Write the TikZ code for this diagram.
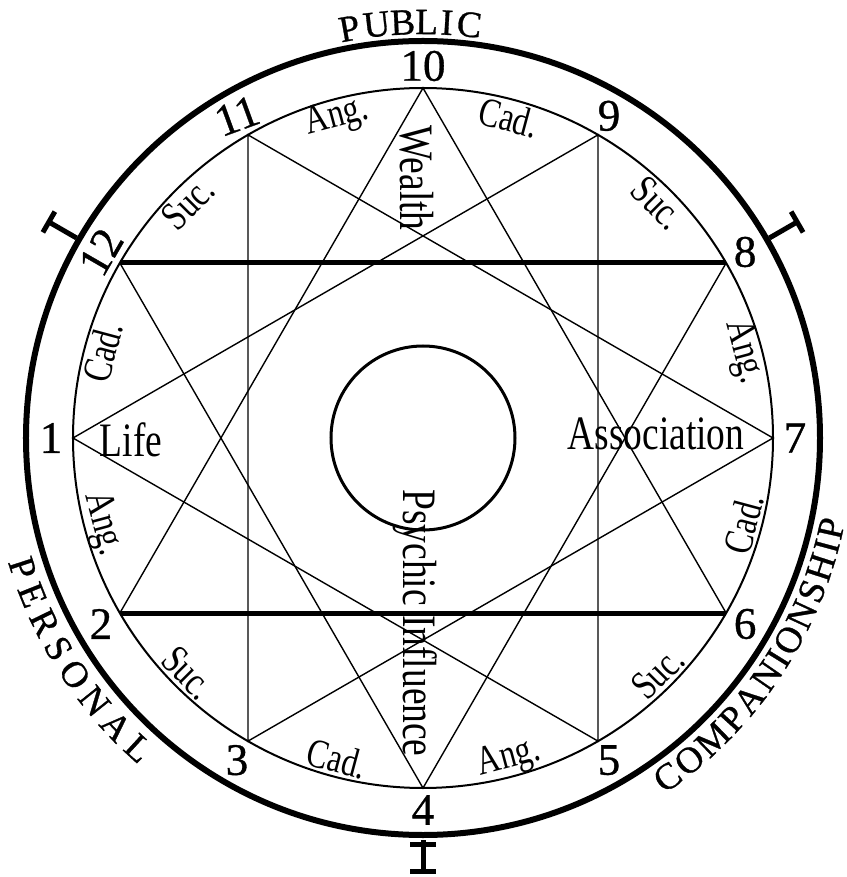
\documentclass[tikz,border=0pt]{standalone}
\usepackage{fontspec}
\setmainfont{Liberation Serif}
\newfontfamily\decofont[FakeStretch=0.78]{Liberation Serif}
\newfontfamily\capfont[FakeBold=0.8]{Liberation Serif}
\usetikzlibrary{calc}
\tikzset{
  rim/.style={line width=6pt},
  ring/.style={line width=2pt},
  core/.style={line width=3pt},
  chord/.style={line width=1.4pt},
  axis/.style={line width=5pt},
  imark/.style={line width=5pt},
  cusp/.style={font=\capfont\fontsize{45}{45}\selectfont, inner sep=0pt},
  house/.style={font=\decofont\fontsize{41}{41}\selectfont, inner sep=0pt},
  field/.style={font=\decofont\fontsize{48}{48}\selectfont, inner sep=0pt},
  rimtext/.style={font=\capfont\fontsize{37}{37}\selectfont, inner sep=0pt},
}

\begin{document}
\begin{tikzpicture}[x=1pt, y=1pt]
\useasboundingbox (-423,-439) rectangle (423,438);

% ── Kreise ─────────────────────────────────────────────────
\draw[rim] (0,0) circle (397);
\draw[ring] (0,0) circle (350);
\draw[core] (0,0) circle (92);

% ── Spitzen der Häuser ─────────────────────────────────────
\foreach \k in {1,...,12}
  \coordinate (p\k) at ({180+30*(\k-1)}:350);

% ── Trigone ────────────────────────────────────────────────
\draw[chord] (p10) -- (p2) (p10) -- (p6);
\draw[chord] (p4) -- (p12) (p4) -- (p8);
\draw[chord] (p1) -- (p9) -- (p5) -- cycle;
\draw[chord] (p7) -- (p11) -- (p3) -- cycle;
\draw[axis] (p12) -- (p8);
\draw[axis] (p2) -- (p6);

% ── Nummern ────────────────────────────────────────────────
\foreach \k/\r in {1/0,2/0,3/0,4/0,5/0,6/0,7/0,8/0,9/0,10/0,11/20,12/60}
  \node[cusp, rotate=\r] (n\k) at ({180+30*(\k-1)}:372) {\k};

% ── Ang. / Suc. / Cad. ─────────────────────────────────────
\foreach \k/\t/\r in {1/Ang./-75, 2/Suc./-45, 3/Cad./-15, 4/Ang./15, 5/Suc./45, 6/Cad./75,
                      7/Ang./-75, 8/Suc./-45, 9/Cad./-15, 10/Ang./15, 11/Suc./45, 12/Cad./75}
  \node[house, rotate=\r] (h\k) at ({195+30*(\k-1)}:332) {\t};

% ── Felder ─────────────────────────────────────────────────
\node[field, anchor=base] (life) at (-292,-19) {Life};
\node[field, anchor=base] (assoc) at (233,-12) {Association};
\node[field, rotate=-90] (wealth) at (-6,260) {Wealth};
\node[field, rotate=-90] (psychic) at (-8,-185) {Psychic Influence};

% ── Randschrift ────────────────────────────────────────────
\foreach \a/\c [count=\i] in {100.2/P,96.4/U,92.8/B,89.5/L,86.7/I,83.6/C}
  \node[rimtext, rotate=\a-90] (pub\i) at (\a:416) {\c};
\foreach \a/\c [count=\i] in {198/P,201.9/E,206/R,210/S,214.2/O,218.7/N,223.2/A,227.5/L}
  \node[rimtext, rotate=\a+90] (per\i) at (\a:421) {\c};
\foreach \a/\c [count=\i] in {-54.2/C,-50.4/O,-46.1/M,-42.2/P,-38.7/A,-34.7/N,-31.8/I,-28.9/O,
                              -25/N,-21.5/S,-18/H,-15/I,-12.5/P}
  \node[rimtext, rotate=\a+90] (com\i) at (\a:418) {\c};

% ── Trennmarken ────────────────────────────────────────────
\foreach \a in {150,30}{
  \begin{scope}[rotate=\a]
    \draw[imark] (400,0) -- (432,0);
    \draw[imark] (432,-12) -- (432,12);
  \end{scope}
}
\begin{scope}[rotate=270]
  \draw[imark] (402,0) -- (433,0);
  \draw[imark] (406,-13) -- (406,13);
  \draw[imark] (433,-13) -- (433,13);
\end{scope}

\end{tikzpicture}
\end{document}
